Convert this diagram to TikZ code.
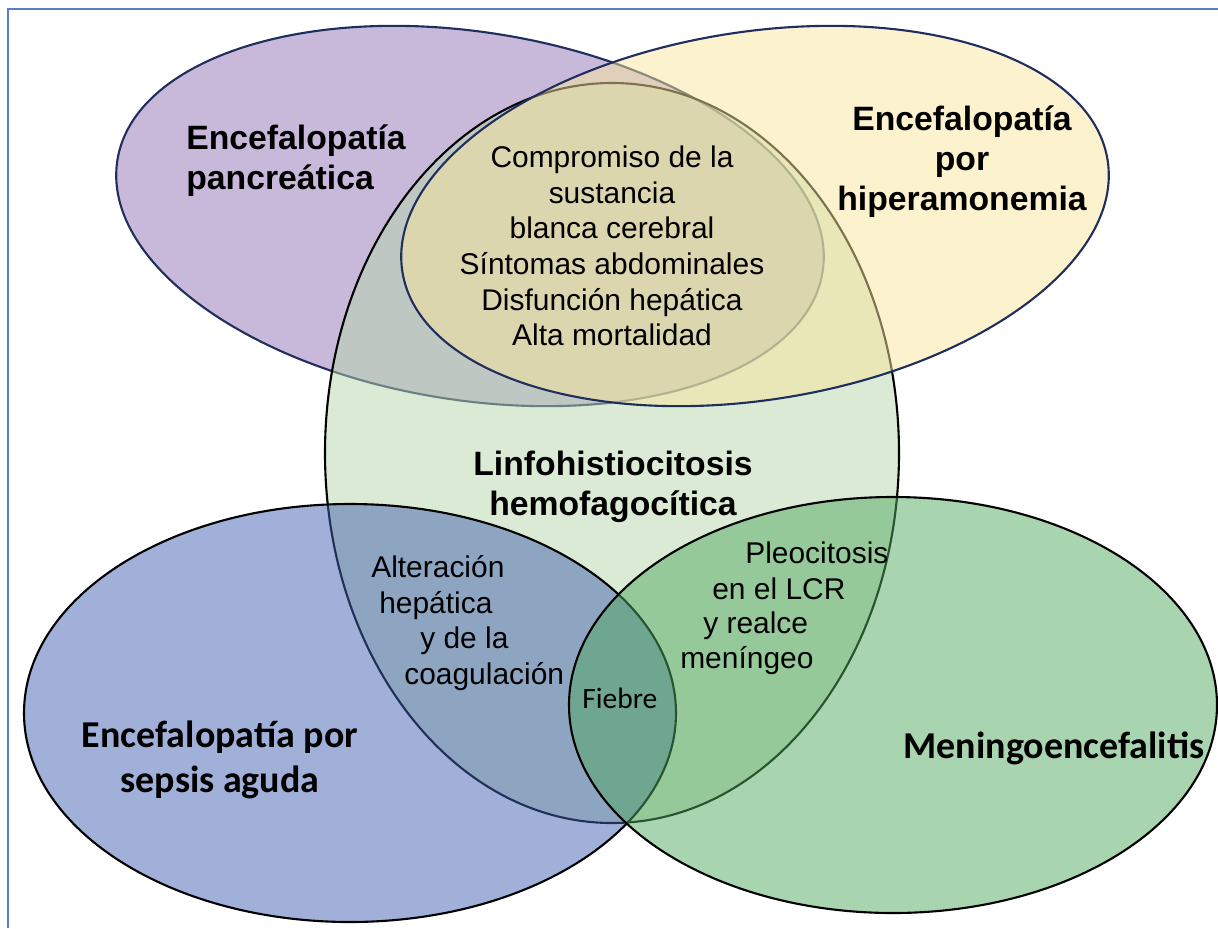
\documentclass[tikz,border=0pt]{standalone}
\usepackage{fontspec}
\setmainfont{Liberation Sans}
\newfontfamily\calibri{Carlito}
\usepackage{tikz}
\definecolor{purplefill}{RGB}{145,115,181}
\definecolor{yellowfill}{RGB}{249,229,157}
\definecolor{greenfill}{RGB}{181,213,169}
\definecolor{bluefill}{RGB}{67,97,177}
\definecolor{meningfill}{RGB}{81,169,97}
\definecolor{navyline}{RGB}{32,46,94}
\definecolor{framecol}{RGB}{90,125,200}
\tikzstyle{venn}=[fill opacity=0.5,line width=1.5pt]
\tikzstyle{boldlbl}=[font=\fontsize{24}{28.5}\selectfont\bfseries,align=center,inner sep=0pt]
\tikzstyle{lbl}=[font=\fontsize{21.3}{25.3}\selectfont,inner sep=0pt]
\tikzstyle{calbold}=[font=\calibri\fontsize{27}{32}\selectfont\bfseries,align=center,inner sep=0pt]

\begin{document}
\begin{tikzpicture}[x=2.5cm,y=-2.5cm]
      \useasboundingbox (0,0) rectangle (12.18,9.28);
      \draw[framecol,line width=1pt] (0.08,9.28) -- (0.08,0.09) -- (12.18,0.09);

      % the five sets
      \draw[venn,draw=navyline,fill=purplefill,rotate around={-9:(4.70,2.16)}]
        (4.70,2.16) ellipse [x radius=3.57,y radius=1.84];
      \draw[venn,draw=black,fill=greenfill] (6.12,4.53) ellipse [x radius=2.87,y radius=3.70];
      \draw[venn,draw=navyline,fill=yellowfill,rotate around={9:(7.55,2.16)}]
        (7.55,2.16) ellipse [x radius=3.57,y radius=1.84];
      \draw[venn,draw=black,fill=bluefill] (3.50,7.13) ellipse [x radius=3.26,y radius=2.09];
      \draw[venn,draw=black,fill=meningfill] (8.93,7.05) ellipse [x radius=3.24,y radius=2.08];

      \node[boldlbl,anchor=west,align=left] (panc) at (1.86,1.61) {Encefalopatía\\pancreática};
      \node[boldlbl] (hiper) at (9.62,1.62) {Encefalopatía\\por\\hiperamonemia};
      \node[lbl,align=center] (comun) at (6.12,2.46)
        {Compromiso de la\\sustancia\\blanca cerebral\\Síntomas abdominales\\Disfunción hepática\\Alta mortalidad};
      \node[boldlbl] (hlh) at (6.13,4.87) {Linfohistiocitosis\\hemofagocítica};

      \foreach \txt/\x/\y [count=\i] in {Alteración/3.71/5.77,hepática/3.79/6.13,y de la/4.20/6.48,coagulación/4.04/6.84}{
        \node[lbl,anchor=base west] (alt\i) at (\x,\y) {\txt};
      }
      \foreach \txt/\x/\y [count=\i] in {Pleocitosis/7.45/5.63,en el LCR/7.12/5.99,y realce/7.03/6.33,meníngeo/6.80/6.68}{
        \node[lbl,anchor=base west] (pleo\i) at (\x,\y) {\txt};
      }
      \node[font=\calibri\fontsize{21}{25}\selectfont,inner sep=0pt,anchor=base west] (fiebre) at (5.82,7.08) {Fiebre};

      \node[calbold] (sepsis) at (2.20,7.60) {Encefalopatía por\\sepsis aguda};
      \node[calbold,anchor=base] (mening) at (10.54,7.58) {Meningoencefalitis};
\end{tikzpicture}
\end{document}
